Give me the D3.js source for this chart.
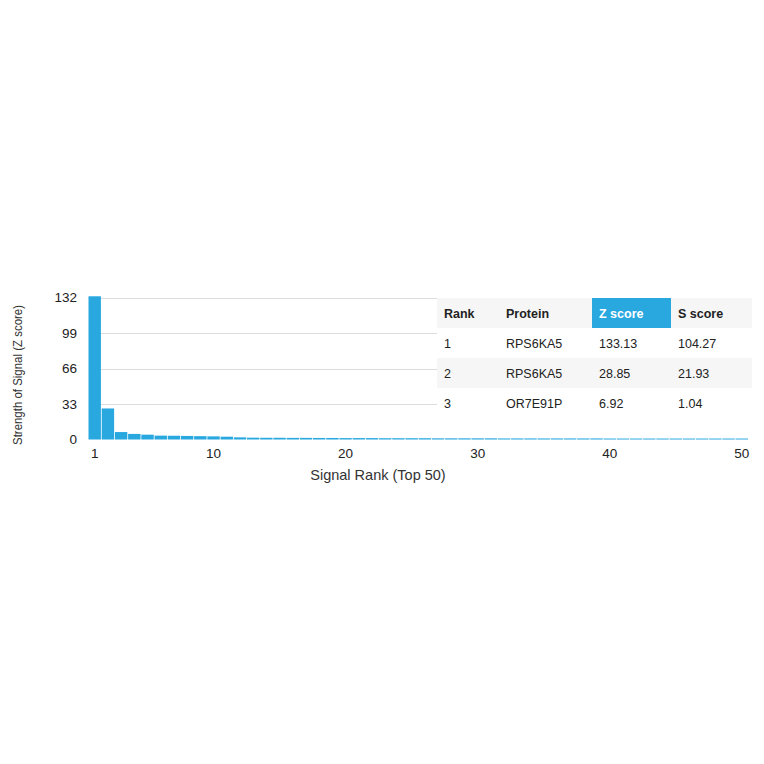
<html>
<head>
<script src="https://d3js.org/d3.v7.min.js"></script>
<style>
body { margin: 0; background: #fff; font-family: "Liberation Sans", Arial, Helvetica, sans-serif; }
.grid line { stroke: #dcdcdc; stroke-width: 1; }
.tick text { fill: #222; font-size: 13.5px; }
text.label { fill: #333; }
rect.bar { fill: #29a8e0; }
.tbl text { font-size: 12.5px; fill: #222; }
</style>
</head>
<body>
<div id="chart"></div>
<script>

// values (ranks 1..50)
var zScores = [133.13, 28.85, 6.92, 5.2, 4.5, 3.6, 3.5, 3.3, 3.1, 2.9,
  2.6, 2.0, 1.7, 1.6, 1.6, 1.5, 1.5, 1.4, 1.4, 1.3,
  1.3, 1.3, 1.2, 1.2, 1.2, 1.2, 1.1, 1.1, 1.1, 1.1,
  1.1, 1.0, 1.0, 1.0, 1.0, 1.0, 1.0, 1.0, 1.0, 0.9,
  0.9, 0.9, 0.9, 0.9, 0.9, 0.9, 0.9, 0.9, 0.9, 0.9];
var yTicks = [0, 33, 66, 99, 132];
var xTicks = [1, 10, 20, 30, 40, 50];

var tableHeader = ["Rank", "Protein", "Z score", "S score"];
var ranks = ["1", "2", "3"];
var proteins = ["RPS6KA5", "RPS6KA5", "OR7E91P"];
var zCol = ["133.13", "28.85", "6.92"];
var sCol = ["104.27", "21.93", "1.04"];

var width = 764, height = 764;
var svg = d3.select("#chart").append("svg").attr("width", width).attr("height", height);

var plotLeft = 88.5, plotRight = 748, plotTop = 297.5, plotBottom = 439.5;

var xScale = d3.scaleBand().domain(d3.range(1, 51)).range([plotLeft, plotRight]).paddingInner(0.06);
var yScale = d3.scaleLinear().domain([0, 132]).range([plotBottom, plotTop]);

// gridlines
svg.append("g").attr("class", "grid")
  .selectAll("line").data(yTicks.slice(1)).enter().append("line")
  .attr("x1", plotLeft).attr("x2", 437)
  .attr("y1", function (d) { return Math.round(yScale(d)) + 0.5; })
  .attr("y2", function (d) { return Math.round(yScale(d)) + 0.5; });

// bars
svg.selectAll("rect.bar").data(zScores).enter().append("rect")
  .attr("class", "bar")
  .attr("x", function (d, i) { return xScale(i + 1); })
  .attr("width", xScale.bandwidth())
  .attr("y", function (d) { return yScale(Math.min(d, 133.5)); })
  .attr("height", function (d) { return plotBottom - yScale(Math.min(d, 133.5)); });

// y axis
var yAxis = d3.axisLeft(yScale).tickValues(yTicks).tickSize(0).tickPadding(0);
var ya = svg.append("g").attr("transform", "translate(77,0)").call(yAxis);
ya.select(".domain").remove();
ya.selectAll("text").attr("font-family", null).attr("font-size", null);

// x axis
var xAxis = d3.axisBottom(xScale).tickValues(xTicks).tickSize(0).tickPadding(0);
var xa = svg.append("g").attr("transform", "translate(0,446)").call(xAxis);
xa.select(".domain").remove();
xa.selectAll("text").attr("font-family", null).attr("font-size", null).attr("dy", "0.9em");

svg.append("text").attr("class", "label")
  .attr("x", 378).attr("y", 480).attr("text-anchor", "middle")
  .style("font-size", "14.5px")
  .text("Signal Rank (Top 50)");

svg.append("text").attr("class", "label")
  .attr("transform", "translate(21.5,375) rotate(-90)").attr("text-anchor", "middle")
  .style("font-size", "13.5px")
  .attr("textLength", 140).attr("lengthAdjust", "spacingAndGlyphs")
  .text("Strength of Signal (Z score)");

// table
var tbl = svg.append("g").attr("class", "tbl");
var colX = [437, 499, 592, 671, 752];
var rowH = 30, tTop = 298;
var rows = [tableHeader];
for (var i = 0; i < ranks.length; i++) {
  rows.push([ranks[i], proteins[i], zCol[i], sCol[i]]);
}

rows.forEach(function (row, r) {
  tbl.append("rect")
    .attr("x", colX[0]).attr("y", tTop + r * rowH)
    .attr("width", colX[4] - colX[0]).attr("height", rowH)
    .attr("fill", (r % 2 == 0) ? "#f6f6f6" : "#fff");
  row.forEach(function (cell, c) {
    if (r == 0 && c == 2) {
      tbl.append("rect")
        .attr("x", colX[2]).attr("y", tTop)
        .attr("width", colX[3] - colX[2]).attr("height", rowH)
        .attr("fill", "#29a8e0");
    }
    tbl.append("text")
      .attr("x", colX[c] + 7)
      .attr("y", tTop + r * rowH + rowH / 2 + 4.5)
      .attr("font-weight", r == 0 ? "bold" : null)
      .style("fill", (r == 0 && c == 2) ? "#fff" : null)
      .text(cell);
  });
});

</script>
</body>
</html>
